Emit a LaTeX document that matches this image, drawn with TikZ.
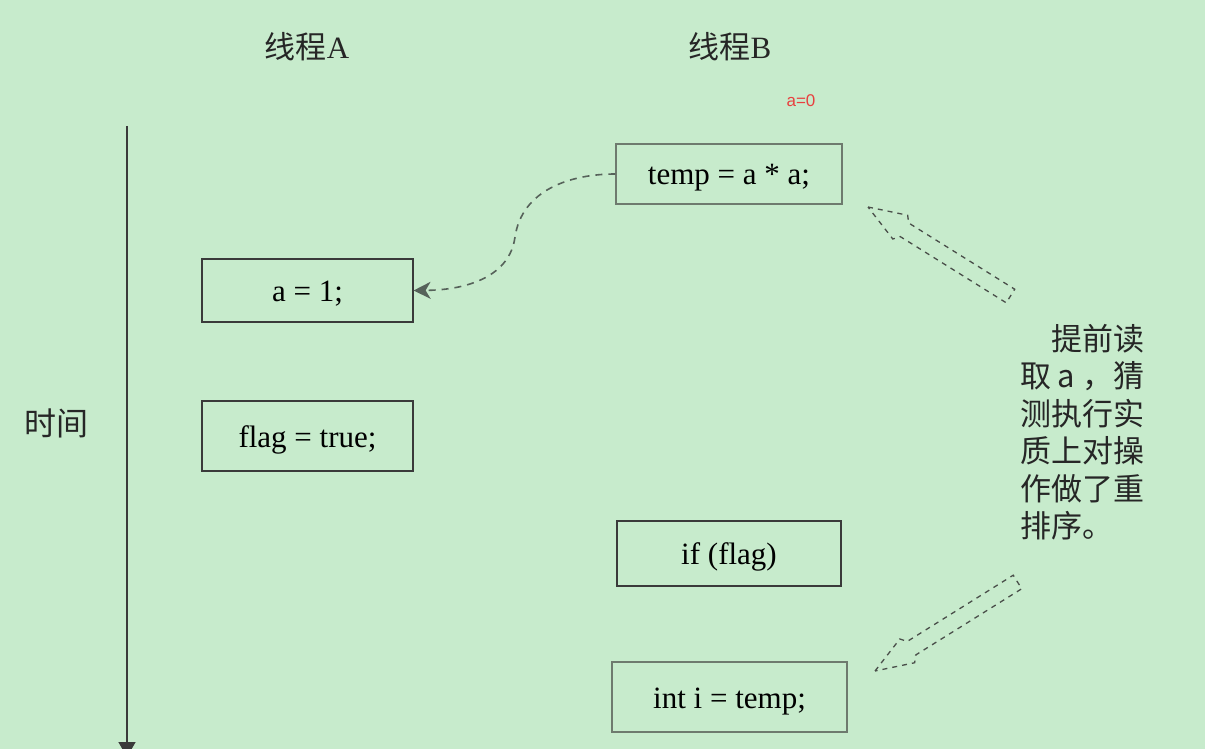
\documentclass[tikz,border=0pt]{standalone}
\usepackage{fontspec}
\setmainfont{Liberation Serif}
\newfontfamily\cjk{Noto Sans CJK SC}
\newfontfamily\sansf{Liberation Sans}
\usetikzlibrary{arrows.meta}
\definecolor{bg}{HTML}{C7EBCC}
\definecolor{darkline}{HTML}{3A3A3A}
\definecolor{softline}{HTML}{6E7A6E}
\definecolor{curvecol}{HTML}{56625A}
\definecolor{hollowcol}{HTML}{4A4F4A}
\definecolor{redtext}{HTML}{E8403F}
\begin{document}
\begin{tikzpicture}[x=1pt,y=-1pt,
  codebox/.style={draw=#1, line width=1.2pt, inner sep=0pt, text=black,
    text height=25pt, text depth=3pt,
    font=\fontsize{31}{36}\selectfont},
  title/.style={font=\cjk\fontsize{31}{34}\selectfont, text=black!85},
  timeline/.style={draw=darkline, line width=1.5pt},
  curvy/.style={draw=curvecol, line width=1.6pt, dash pattern=on 7pt off 6pt,
    -{Stealth[length=17pt,width=17pt,inset=5pt]}},
  hollow/.style={draw=hollowcol, line width=1.3pt, dash pattern=on 5pt off 5pt},
  hollowarrow/.pic={\draw[hollow] (0,0) -- (38,-14) -- (43,-8) -- (168,-8)
    -- (168,8) -- (43,8) -- (38,14) -- cycle;}
]
\fill[bg] (0,0) rectangle (1205,749);
\useasboundingbox (0,0) rectangle (1205,749);
\clip (0,0) rectangle (1205,749);

% titles
\node[title] (ta) at (307,47) {线程{\rmfamily A}};
\node[title] (tb) at (730,47) {线程{\rmfamily B}};
\node[font=\sansf\fontsize{17}{19}\selectfont, text=redtext] (a0) at (801,101) {a=0};

% time axis
\coordinate (t0) at (127,126);
\coordinate (t1) at (127,757);
\draw[timeline, -{Triangle[width=17pt,length=15pt]}] (t0) -- (t1);
\node[title, font=\cjk\fontsize{32}{34}\selectfont] (time) at (56,423) {时间};

% thread A boxes
\node[codebox=darkline, minimum width=211pt, minimum height=63pt] (a1) at (307.5,290.5) {a = 1;};
\node[codebox=darkline, minimum width=211pt, minimum height=70pt] (flag) at (307.5,436) {flag = true;};

% thread B boxes
\node[codebox=softline, minimum width=226pt, minimum height=60pt] (temp) at (729,174) {temp = a * a;};
\node[codebox=darkline, minimum width=224pt, minimum height=65pt] (iff) at (729,553.5) {if (flag)};
\node[codebox=softline, minimum width=235pt, minimum height=70pt] (inti) at (729.5,697) {int i = temp;};

% curved dashed arrow
\draw[curvy] (temp.west) .. controls (570,174) and (522,190) .. (515,237)
  .. controls (510,275) and (470,290) .. (a1.east);

% hollow dashed arrows
\pic[rotate=-32] at (868,207) {hollowarrow};
\pic[rotate=32] at (875,671) {hollowarrow};

% side note
\node[font=\cjk\fontsize{31}{37.5}\selectfont, text=black!85, align=left,
  text width=124pt, inner sep=0pt] (note) at (1082,432)
  {\hspace*{1em}提前读\\取\makebox[1em]{a}，猜\\测执行实\\质上对操\\作做了重\\排序。};
\end{tikzpicture}
\end{document}
